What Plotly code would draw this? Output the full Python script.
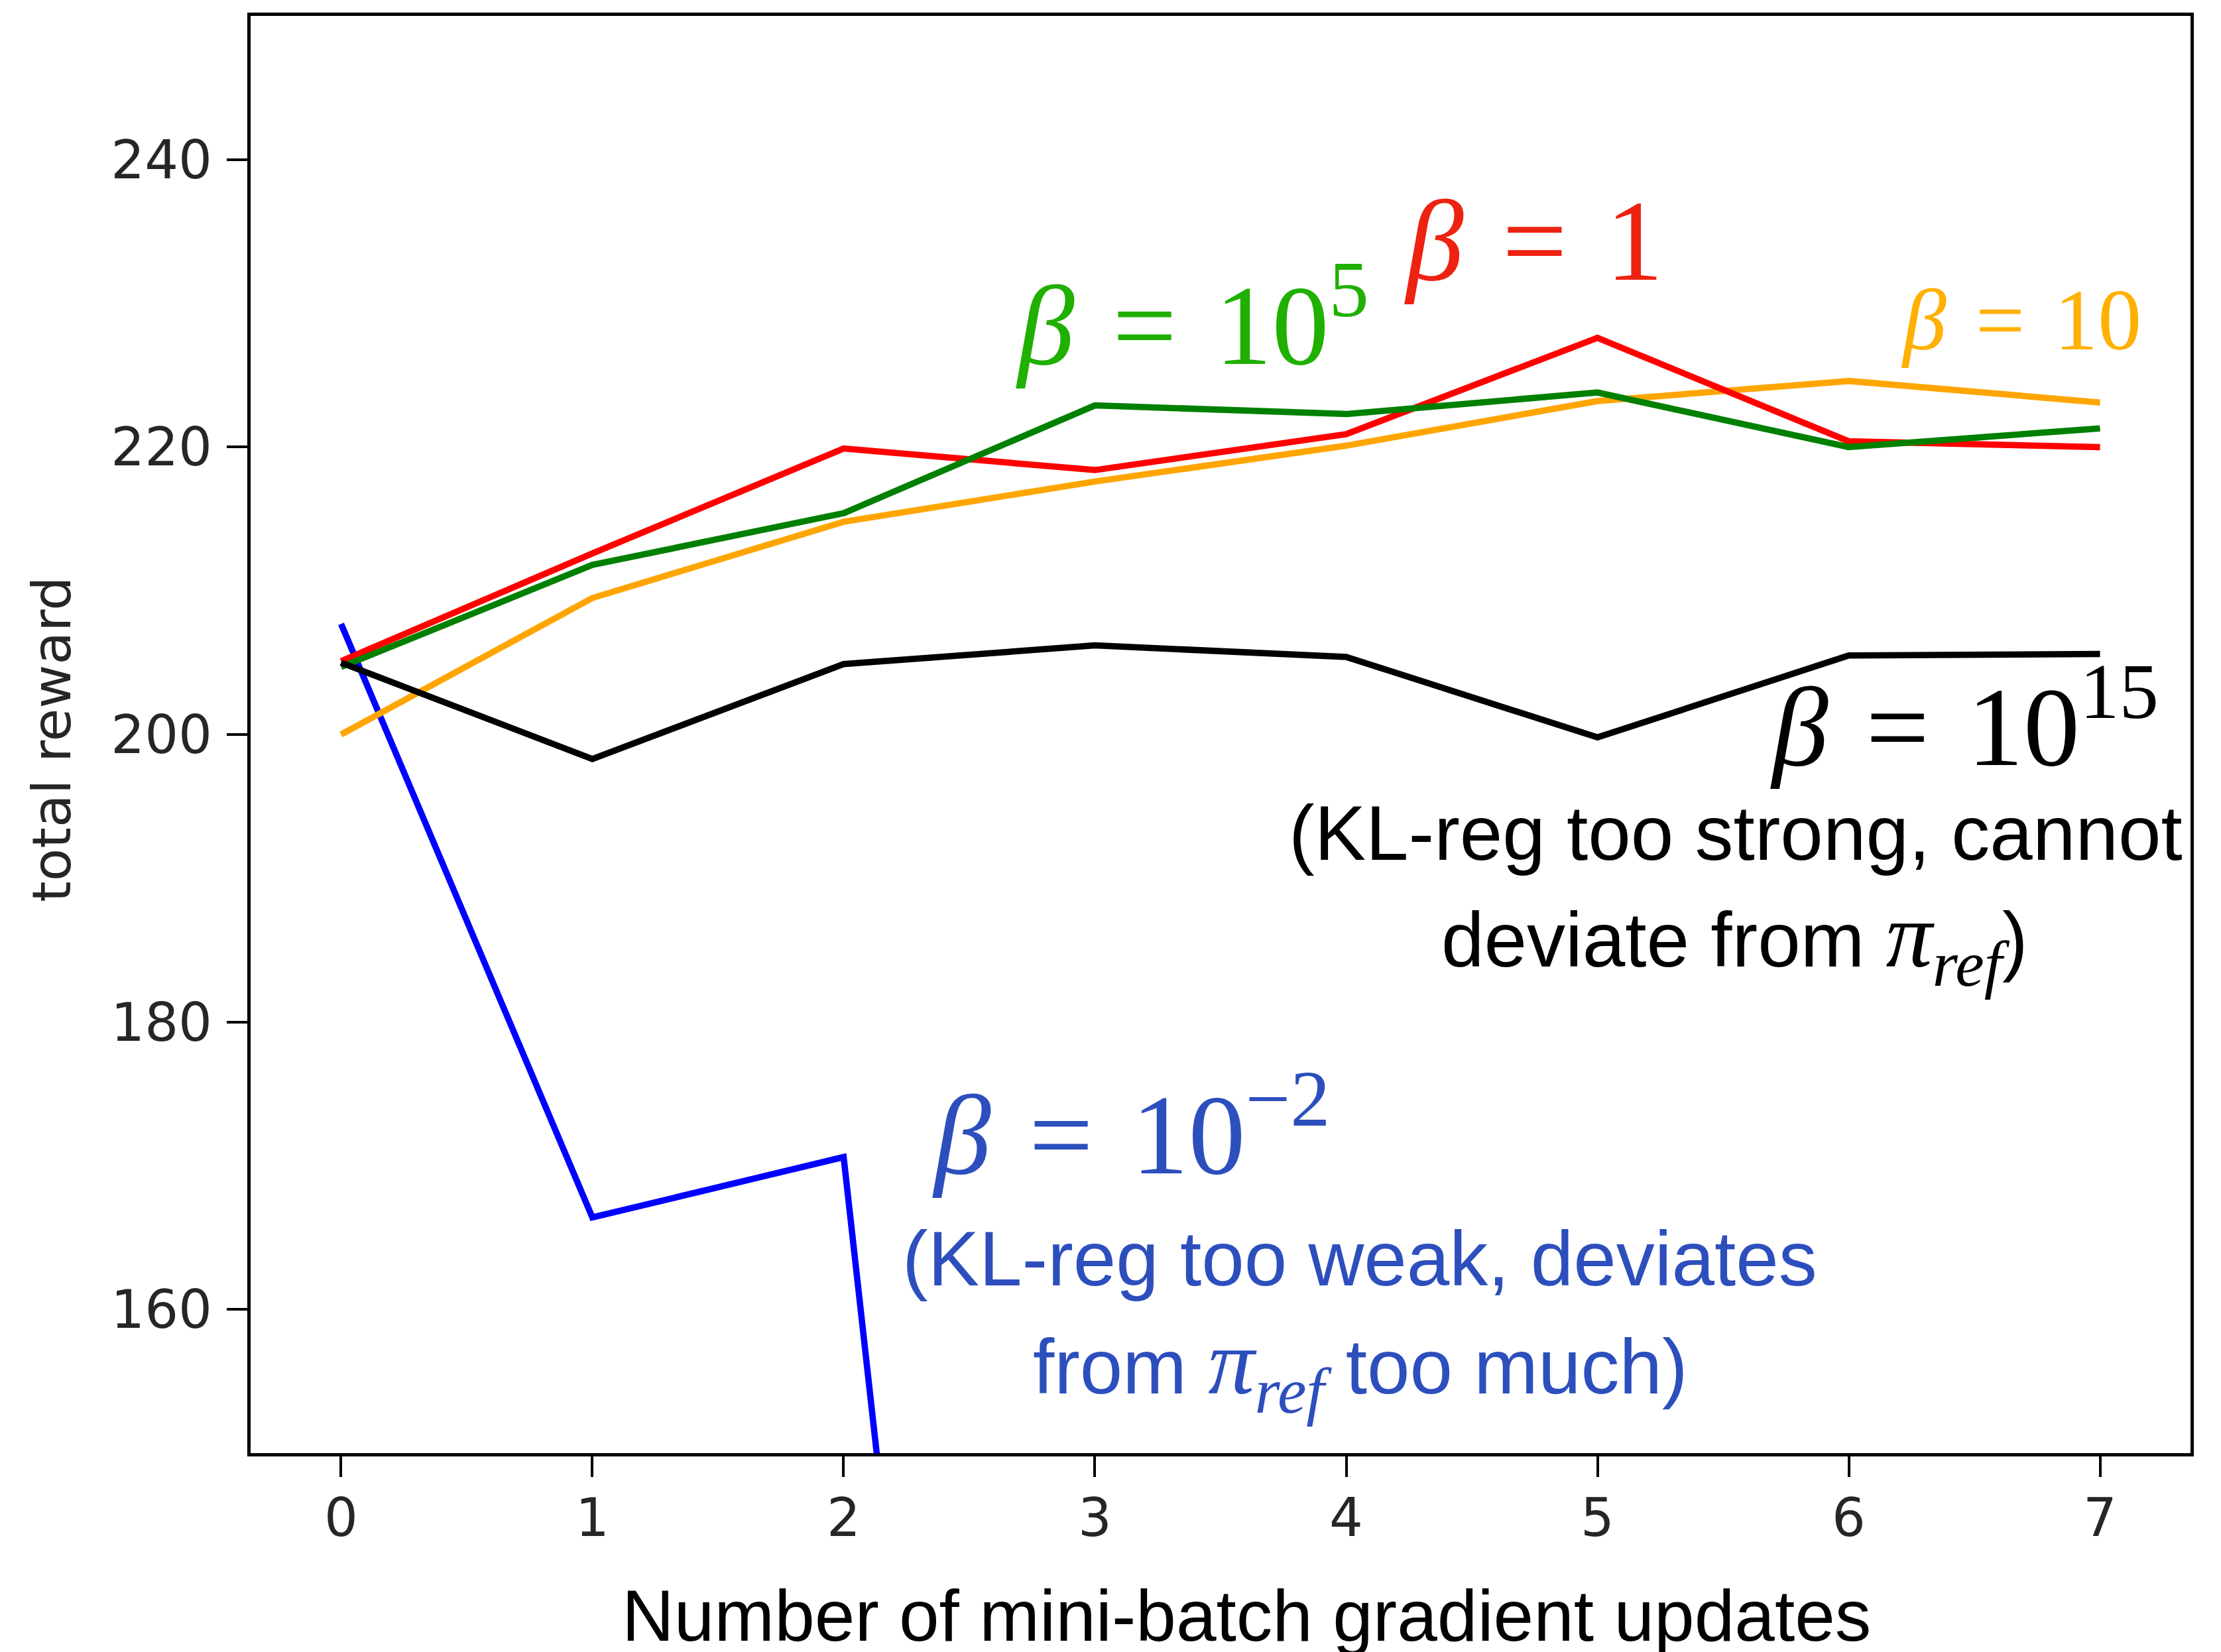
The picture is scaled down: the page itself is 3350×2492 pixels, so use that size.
import plotly.graph_objects as go

# ---------------- data ----------------
updates = [0, 1, 2, 3, 4, 5, 6, 7]
reward_beta_1 = [205.1, 212.6, 219.9, 218.4, 220.9, 227.6, 220.4, 220.0]
reward_beta_1e5 = [204.7, 211.8, 215.4, 222.9, 222.3, 223.8, 220.0, 221.3]
reward_beta_10 = [200.0, 209.5, 214.8, 217.6, 220.1, 223.2, 224.6, 223.1]
reward_beta_1e15 = [205.0, 198.3, 204.9, 206.2, 205.4, 199.8, 205.5, 205.6]
updates_beta_1em2 = [0, 1, 2, 3]
reward_beta_1em2 = [207.7, 166.4, 170.6, 14.0]

x_ticks = [0, 1, 2, 3, 4, 5, 6, 7]
y_ticks = [160, 180, 200, 220, 240]
x_title = "Number of mini-batch gradient updates"
y_title = "total reward"

# ---------------- layout geometry ----------------
W, H = 3350, 2492
L, R, T, B = 370, 3296, 16, 2184   # plot area in pixels

def px(xp):
    return (xp - L) / (R - L)

def py(yp):
    return 1 - (yp - T) / (B - T)

SERIF = "Liberation Serif, Times New Roman, serif"
SANS = "Liberation Sans, Arial, Helvetica, sans-serif"
TICKF = "DejaVu Sans, sans-serif"
SP = "\u2004"  # slightly wider space, like TeX spacing around '='

fig = go.Figure()
series = [
    (updates_beta_1em2, reward_beta_1em2, "#0000ff", "β=1e-2"),
    (updates, reward_beta_10, "#ffa500", "β=10"),
    (updates, reward_beta_1, "#ff0000", "β=1"),
    (updates, reward_beta_1e5, "#008000", "β=1e5"),
    (updates, reward_beta_1e15, "#000000", "β=1e15"),
]
for xs, ys, col, name in series:
    fig.add_trace(go.Scatter(x=xs, y=ys, mode="lines", name=name,
                             line=dict(color=col, width=9.5),
                             showlegend=False, hoverinfo="skip"))

PI_REF = ("<span style='font-family:Liberation Serif;font-size:140px'>"
          "<i>π</i><sub><i>ref</i></sub></span>")

annotations = [
    # (text, center x px, y px, yanchor, font family, size, color)
    (f"<i>β</i>{SP}={SP}10<sup>5</sup>", 1790, 578, "bottom", SERIF, 172, "#1fb000"),
    (f"<i>β</i>{SP}={SP}1", 2305, 452, "bottom", SERIF, 174, "#ee2211"),
    (f"<i>β</i>{SP}={SP}10", 3040, 548, "bottom", SERIF, 132, "#ffb000"),
    (f"<i>β</i>{SP}={SP}10<sup>15</sup>", 2955, 1183, "bottom", SERIF, 170, "#000000"),
    ("(KL-reg too strong, cannot", 2610, 1314, "bottom", SANS, 116, "#000000"),
    (f"deviate from {PI_REF})", 2608, 1500, "bottom", SANS, 116, "#000000"),
    (f"<i>β</i>{SP}={SP}10<sup>−2</sup>", 1698, 1799, "bottom", SERIF, 172, "#2d4fbd"),
    ("(KL-reg too weak, deviates", 2043, 1956, "bottom", SANS, 116, "#2d4fbd"),
    (f"from {PI_REF} too much)", 2044, 2144, "bottom", SANS, 116, "#2d4fbd"),
    (x_title, 1872, 2368, "top", SANS, 109, "#000000"),
]
for text, xc, yc, ya, fam, size, col in annotations:
    fig.add_annotation(text=text, xref="paper", yref="paper",
                       x=px(xc), y=py(yc), xanchor="center", yanchor=ya,
                       showarrow=False, borderpad=0, borderwidth=0,
                       font=dict(family=fam, size=size, color=col))

fig.add_annotation(text=y_title, xref="paper", yref="paper",
                   x=px(70), y=py(1107), xanchor="center", yanchor="middle",
                   textangle=-90, showarrow=False, borderpad=0,
                   font=dict(family=TICKF, size=81, color="#262626"))

axis_common = dict(showgrid=False, zeroline=False, showline=True, mirror=True,
                   linecolor="black", linewidth=5, ticks="outside", ticklen=31,
                   tickwidth=4, tickcolor="black",
                   tickfont=dict(family=TICKF, size=80, color="#262626"))

fig.update_layout(
    width=W, height=H,
    margin=dict(l=L, r=W - R, t=T, b=H - B, pad=0),
    paper_bgcolor="white", plot_bgcolor="white",
    xaxis=dict(range=[-0.36, 7.36], tickvals=x_ticks, ticklabelstandoff=-7,
               **axis_common),
    yaxis=dict(range=[150, 250], tickvals=y_ticks, ticklabelstandoff=6,
               **axis_common),
)

fig.write_html("out.html")
